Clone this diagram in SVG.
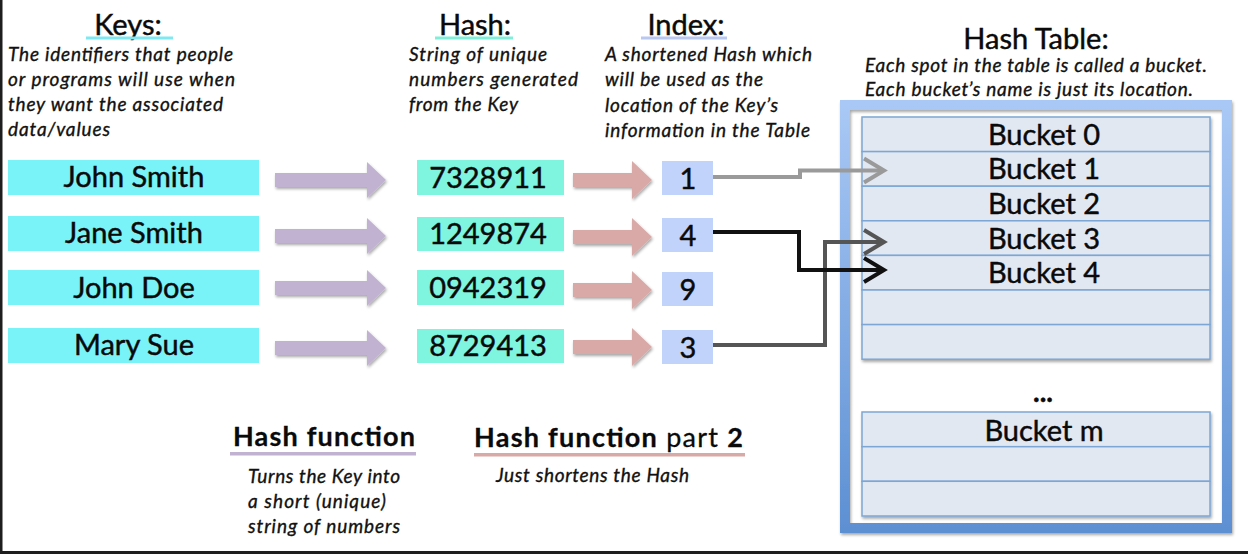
<svg xmlns="http://www.w3.org/2000/svg" width="1248" height="554" viewBox="0 0 1248 554">
  <style>
    .big { font-family: Lato, "Open Sans", "Liberation Sans", sans-serif; font-size: 29px; fill: #0a0a0a; stroke: #0a0a0a; stroke-width: 0.45; text-anchor: middle; }
    .desc { font-family: Lato, "Open Sans", "Liberation Sans", sans-serif; font-size: 19px; font-style: italic; fill: #111; stroke: #111; stroke-width: 0.35; }
    .leg { font-family: Lato, "Open Sans", "Liberation Sans", sans-serif; font-size: 27px; fill: #0a0a0a; stroke: #0a0a0a; stroke-width: 0.3; }
    .key { fill: #7af3f8; }
    .hash { fill: #7ff5df; }
    .idx { fill: #c2d3fb; }
    .parrow { fill: #c1b2d2; filter: url(#sh); }
    .rarrow { fill: #d9a9a7; filter: url(#sh); }
    .cell { fill: #e2e8f2; stroke: #7da6d4; stroke-width: 1.5; }
    .conn { fill: none; stroke-width: 4; stroke-linejoin: miter; }
  </style>
  <defs>
    <filter id="sh" x="-10%" y="-20%" width="130%" height="160%">
      <feGaussianBlur in="SourceAlpha" stdDeviation="1.5"/>
      <feOffset dx="1" dy="2" result="b"/>
      <feComponentTransfer><feFuncA type="linear" slope="0.35"/></feComponentTransfer>
      <feMerge><feMergeNode/><feMergeNode in="SourceGraphic"/></feMerge>
    </filter>
    <linearGradient id="frameGrad" x1="0" y1="0" x2="0" y2="1">
      <stop offset="0" stop-color="#a9c8f5"/>
      <stop offset="1" stop-color="#5d90d3"/>
    </linearGradient>
    <marker id="mGray" markerUnits="userSpaceOnUse" markerWidth="30" markerHeight="30" refX="22" refY="13" orient="auto" overflow="visible">
      <path d="M2,1 L22,13 L2,25" fill="none" stroke="#9a9a9a" stroke-width="4"/>
    </marker>
    <marker id="mDark" markerUnits="userSpaceOnUse" markerWidth="30" markerHeight="30" refX="22" refY="13" orient="auto" overflow="visible">
      <path d="M2,1 L22,13 L2,25" fill="none" stroke="#555" stroke-width="4"/>
    </marker>
    <marker id="mBlack" markerUnits="userSpaceOnUse" markerWidth="30" markerHeight="30" refX="22" refY="13" orient="auto" overflow="visible">
      <path d="M2,1 L22,13 L2,25" fill="none" stroke="#111" stroke-width="4"/>
    </marker>
  </defs>

  <rect x="0" y="0" width="1248" height="554" fill="#ffffff"/>
  <rect x="0" y="0" width="2.5" height="554" fill="#1e1e1e"/>
  <rect x="0" y="551" width="1248" height="3" fill="#1e1e1e"/>

  <!-- Column headers -->
  <g id="header-keys">
    <text class="big" x="128" y="35">Keys:</text>
    <rect x="86" y="36.5" width="87" height="3" fill="#7ee9f2"/>
    <text class="desc" x="8" y="61" textLength="225">The identifiers that people</text>
    <text class="desc" x="8" y="86" textLength="227">or programs will use when</text>
    <text class="desc" x="8" y="111" textLength="215">they want the associated</text>
    <text class="desc" x="8" y="136" textLength="102">data/values</text>
  </g>
  <g id="header-hash">
    <text class="big" x="475" y="35">Hash:</text>
    <rect x="435" y="36.5" width="78" height="3" fill="#7fefd9"/>
    <text class="desc" x="409" y="61" textLength="138">String of unique</text>
    <text class="desc" x="409" y="86" textLength="169">numbers generated</text>
    <text class="desc" x="409" y="111" textLength="109">from the Key</text>
  </g>
  <g id="header-index">
    <text class="big" x="686" y="35">Index:</text>
    <rect x="641" y="36.5" width="86" height="3" fill="#b9c8f1"/>
    <text class="desc" x="605" y="61" textLength="207">A shortened Hash which</text>
    <text class="desc" x="605" y="86" textLength="158">will be used as the</text>
    <text class="desc" x="605" y="112" textLength="173">location of the Key’s</text>
    <text class="desc" x="605" y="137" textLength="205">information in the Table</text>
  </g>
  <g id="header-table">
    <text class="big" x="1036" y="49">Hash Table:</text>
    <text class="desc" x="865" y="72" textLength="342">Each spot in the table is called a bucket.</text>
    <text class="desc" x="865" y="96" textLength="328">Each bucket’s name is just its location.</text>
  </g>

  <!-- Keys -->
  <g id="key-john-smith"><rect class="key" x="8" y="160" width="251" height="35"/><text class="big" x="134" y="187">John Smith</text></g>
  <g id="key-jane-smith"><rect class="key" x="8" y="216" width="251" height="35"/><text class="big" x="134" y="243">Jane Smith</text></g>
  <g id="key-john-doe"><rect class="key" x="8" y="270" width="251" height="35"/><text class="big" x="134" y="298">John Doe</text></g>
  <g id="key-mary-sue"><rect class="key" x="8" y="328" width="251" height="35"/><text class="big" x="134" y="355">Mary Sue</text></g>

  <!-- Hash function arrows -->
  <g id="hash-function-arrows">
    <polygon class="parrow" points="275,173 367,173 367,162 386,180 367,198 367,187 275,187"/>
    <polygon class="parrow" points="275,229 367,229 367,218 386,236 367,254 367,243 275,243"/>
    <polygon class="parrow" points="275,281 367,281 367,270 386,288 367,306 367,295 275,295"/>
    <polygon class="parrow" points="275,341 367,341 367,330 386,348 367,366 367,355 275,355"/>
  </g>

  <!-- Hashes -->
  <g id="hash-7328911"><rect class="hash" x="417" y="160" width="147" height="35"/><text class="big" x="488" y="188">7328911</text></g>
  <g id="hash-1249874"><rect class="hash" x="417" y="217" width="147" height="34"/><text class="big" x="488" y="244">1249874</text></g>
  <g id="hash-0942319"><rect class="hash" x="417" y="270" width="147" height="35"/><text class="big" x="488" y="298">0942319</text></g>
  <g id="hash-8729413"><rect class="hash" x="417" y="329" width="147" height="34"/><text class="big" x="488" y="356">8729413</text></g>

  <!-- Hash function part 2 arrows -->
  <g id="hash-function-2-arrows">
    <polygon class="rarrow" points="573,173 632,173 632,161 652,180 632,199 632,187 573,187"/>
    <polygon class="rarrow" points="573,230 632,230 632,218 652,237 632,256 632,244 573,244"/>
    <polygon class="rarrow" points="573,283 632,283 632,271 652,290 632,309 632,297 573,297"/>
    <polygon class="rarrow" points="573,340 632,340 632,328 652,347 632,366 632,354 573,354"/>
  </g>

  <!-- Indexes -->
  <g id="index-1"><rect class="idx" x="662" y="161" width="51" height="34"/><text class="big" x="688" y="189">1</text></g>
  <g id="index-4"><rect class="idx" x="662" y="218" width="51" height="34"/><text class="big" x="688" y="246">4</text></g>
  <g id="index-9"><rect class="idx" x="662" y="272" width="51" height="34"/><text class="big" x="688" y="300">9</text></g>
  <g id="index-3"><rect class="idx" x="662" y="330" width="51" height="34"/><text class="big" x="688" y="358">3</text></g>

  <!-- Hash table -->
  <g id="hash-table">
    <rect x="845" y="105" width="382" height="423" fill="none" stroke="url(#frameGrad)" stroke-width="10" filter="url(#sh)"/>
    <g id="buckets-top" filter="url(#sh)">
      <rect class="cell" x="862" y="117" width="348" height="34.6"/>
      <rect class="cell" x="862" y="151.6" width="348" height="34.6"/>
      <rect class="cell" x="862" y="186.2" width="348" height="34.6"/>
      <rect class="cell" x="862" y="220.8" width="348" height="34.6"/>
      <rect class="cell" x="862" y="255.4" width="348" height="34.6"/>
      <rect class="cell" x="862" y="290" width="348" height="34.6"/>
      <rect class="cell" x="862" y="324.6" width="348" height="34.6"/>
    </g>
    <text class="big" x="1044" y="145">Bucket 0</text>
    <text class="big" x="1044" y="179">Bucket 1</text>
    <text class="big" x="1044" y="214">Bucket 2</text>
    <text class="big" x="1044" y="249">Bucket 3</text>
    <text class="big" x="1044" y="283">Bucket 4</text>
    <text class="big" x="1043" y="402" style="font-weight:bold;font-size:28px">...</text>
    <g id="buckets-bottom" filter="url(#sh)">
      <rect class="cell" x="862" y="412" width="348" height="34.7"/>
      <rect class="cell" x="862" y="446.7" width="348" height="34.6"/>
      <rect class="cell" x="862" y="481.3" width="348" height="34.7"/>
    </g>
    <text class="big" x="1044" y="441">Bucket m</text>
  </g>

  <!-- Legend -->
  <g id="legend-hash-function">
    <text class="leg" x="233" y="446" font-weight="bold" textLength="182">Hash function</text>
    <rect x="230" y="452" width="186" height="3.5" fill="#c1b2d2"/>
    <text class="desc" x="248" y="483" textLength="152">Turns the Key into</text>
    <text class="desc" x="248" y="508" textLength="138">a short (unique)</text>
    <text class="desc" x="248" y="533" textLength="152">string of numbers</text>
  </g>
  <g id="legend-hash-function-2">
    <text class="leg" x="474" y="447" textLength="269"><tspan font-weight="bold">Hash function</tspan> part <tspan font-weight="bold">2</tspan></text>
    <rect x="474" y="453" width="271" height="3.5" fill="#d9a9a7"/>
    <text class="desc" x="496" y="482" textLength="193">Just shortens the Hash</text>
  </g>

  <!-- Connectors -->
  <g id="connectors">
    <path class="conn" stroke="#9a9a9a" d="M713,177 H800 V170.5 H884" marker-end="url(#mGray)"/>
    <path class="conn" stroke="#555" d="M713,345 H825 V242 H884" marker-end="url(#mDark)"/>
    <path class="conn" stroke="#111" d="M713,232 H799 V270 H884" marker-end="url(#mBlack)"/>
  </g>
</svg>
